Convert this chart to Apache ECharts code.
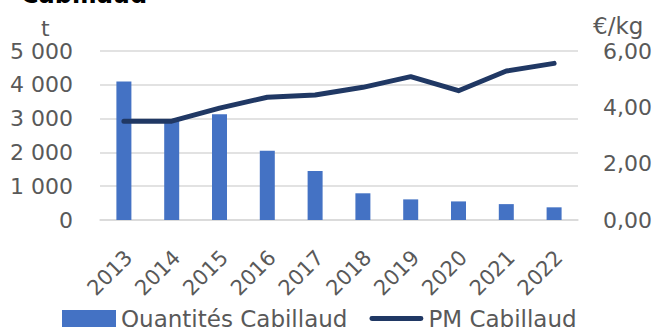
<!DOCTYPE html>
<html>
<head>
<meta charset="utf-8">
<script src="https://cdn.jsdelivr.net/npm/echarts@6/dist/echarts.min.js"></script>
<style>
html,body{margin:0;padding:0;background:#fff;}
#chart{width:656px;height:327px;}
</style>
</head>
<body>
<div id="chart"></div>
<script>
var years = ['2013','2014','2015','2016','2017','2018','2019','2020','2021','2022'];
var quantites = [4100, 2930, 3130, 2050, 1450, 790, 610, 550, 470, 375];
var prixMoyen = [3.51, 3.51, 3.97, 4.36, 4.44, 4.71, 5.09, 4.59, 5.29, 5.56];
var leftTicks = [0, 1000, 2000, 3000, 4000, 5000];
var rightTicks = [0, 2, 4, 6];

var FONT = '"DejaVu Sans", sans-serif';
var GREY = '#595959';
var chart = echarts.init(document.getElementById('chart'), null, {renderer: 'svg'});
chart.setOption({
  animation: false,
  backgroundColor: '#fff',
  title: {
    text: 'Cabillaud', left: 16, top: -22,
    textStyle: {fontFamily: FONT, fontWeight: 'bold', fontSize: 24, color: '#000'}
  },
  graphic: [
    {type: 'text', left: 41, top: 17, style: {text: 't', font: '22px ' + FONT, fill: GREY}},
    {type: 'text', left: 593, top: 14, style: {text: '€/kg', font: '23px ' + FONT, fill: GREY}}
  ],
  grid: {left: 100, right: 78, top: 51, bottom: 107, containLabel: false},
  legend: {
    left: 57, top: 302,
    itemWidth: 54, itemHeight: 17, itemGap: 22,
    textStyle: {fontFamily: FONT, fontSize: 23, color: GREY},
    data: [
      {name: 'Quantités Cabillaud', icon: 'rect'},
      {name: 'PM Cabillaud', icon: 'path://M5 0H105A5 5 0 0 1 105 10H5A5 5 0 0 1 5 0Z'}
    ]
  },
  xAxis: {
    type: 'category', data: years,
    axisLine: {lineStyle: {color: '#d9d9d9', width: 1.5}},
    axisTick: {show: false},
    axisLabel: {rotate: 45, margin: 39, padding: [0, -7, 0, 0], fontFamily: FONT, fontSize: 21, color: GREY, interval: 0}
  },
  yAxis: [
    {
      type: 'value', min: leftTicks[0], max: leftTicks[leftTicks.length - 1], interval: 1000,
      axisLine: {show: false}, axisTick: {show: false},
      splitLine: {lineStyle: {color: '#d9d9d9', width: 1.5}},
      axisLabel: {
        margin: 27, fontFamily: FONT, fontSize: 22, color: GREY,
        formatter: function (v) { return String(v).replace(/\B(?=(\d{3})+(?!\d))/g, ' '); }
      }
    },
    {
      type: 'value', min: rightTicks[0], max: rightTicks[rightTicks.length - 1], interval: 2,
      position: 'right',
      axisLine: {show: false}, axisTick: {show: false}, splitLine: {show: false},
      axisLabel: {
        margin: 25, fontFamily: FONT, fontSize: 22, color: GREY,
        formatter: function (v) { return v.toFixed(2).replace('.', ','); }
      }
    }
  ],
  series: [
    {
      name: 'Quantités Cabillaud', type: 'bar', data: quantites, yAxisIndex: 0,
      barWidth: 15, itemStyle: {color: '#4472C4'}
    },
    {
      name: 'PM Cabillaud', type: 'line', data: prixMoyen, yAxisIndex: 1,
      symbol: 'none', z: 5,
      lineStyle: {color: '#203864', width: 5, cap: 'round', join: 'round'},
      itemStyle: {color: '#203864'}
    }
  ]
});
</script>
</body>
</html>
